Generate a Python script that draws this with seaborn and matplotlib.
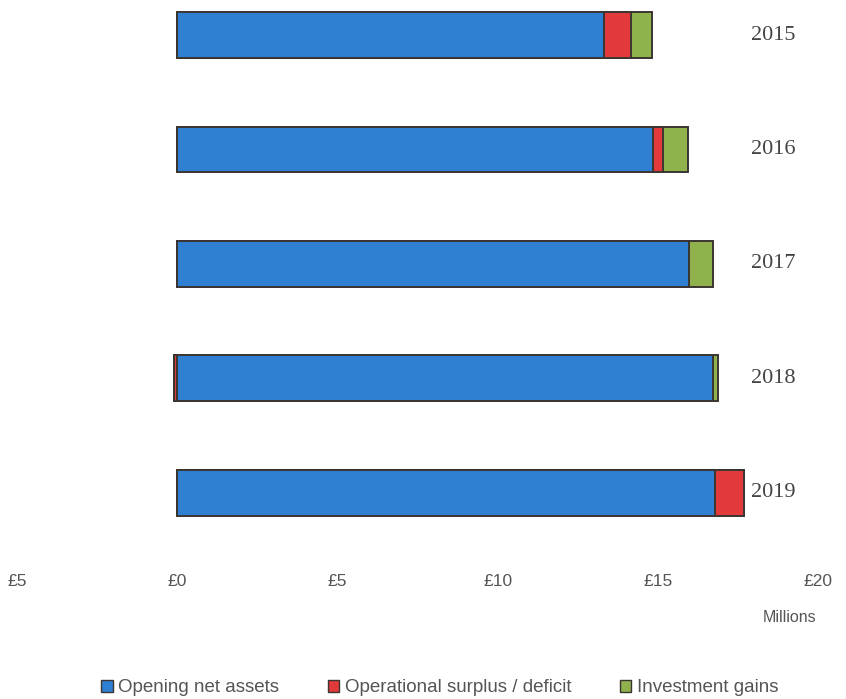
import numpy as np
import pandas as pd
import seaborn as sns
import matplotlib.pyplot as plt
from matplotlib.patches import Patch

# Values (£ millions)
years = ['2015', '2016', '2017', '2018', '2019']
opening = [13.33, 14.86, 15.98, 16.73, 16.78]
operational = [0.84, 0.31, 0.0, -0.10, 0.90]
investment = [0.65, 0.78, 0.75, 0.15, 0.0]
x_ticks = [-5, 0, 5, 10, 15, 20]
x_labels = ['£5', '£0', '£5', '£10', '£15', '£20']

colors = {'blue': '#2f7fd3', 'red': '#e2393b', 'green': '#8fb24c'}
edge = '#3b3531'

df = pd.DataFrame({'year': years, 'opening': opening,
                   'operational': operational, 'investment': investment})

# cumulative ends for stacking (positive to the right, negatives to the left)
op_pos = df['operational'].clip(lower=0)
inv_pos = df['investment'].clip(lower=0)
op_neg = df['operational'].clip(upper=0)
inv_neg = df['investment'].clip(upper=0)
df['end_blue'] = df['opening']
df['end_red'] = df['opening'] + op_pos
df['end_green'] = df['end_red'] + inv_pos
df['neg_red'] = op_neg
df['neg_green'] = op_neg + inv_neg

sns.set_style("white")
plt.rcParams['font.family'] = ['Liberation Sans', 'DejaVu Sans']

fig = plt.figure(figsize=(8.46, 6.99), dpi=100)
ax = fig.add_axes([17 / 846, 1 - 550 / 699, (818 - 17) / 846, 550 / 699])

# draw outermost first so inner segments overlay
for col, c in [('end_green', colors['green']), ('end_red', colors['red']),
               ('end_blue', colors['blue']), ('neg_green', colors['green']),
               ('neg_red', colors['red'])]:
    sns.barplot(data=df, x=col, y='year', order=years, orient='h',
                color=c, width=0.4, edgecolor=edge, linewidth=1.4,
                saturation=1, ax=ax)

ax.set_xlim(-5, 20)
ax.set_ylim(4.5, -0.306)
ax.set_xticks(x_ticks)
ax.set_xticklabels(x_labels, fontsize=12.5, color='#555555')
ax.tick_params(axis='x', length=0, pad=17)
ax.set_yticks([])
ax.set_xlabel('')
ax.set_ylabel('')
sns.despine(ax=ax, left=True, bottom=True)

# year labels sit inside the plot at the right
for i, y in enumerate(years):
    ax.text(17.9, i, y, ha='left', va='center', fontsize=16,
            color='#444444', family='Liberation Serif')

fig.text(790 / 846, 1 - 618 / 699, 'Millions', ha='center', va='center',
         fontsize=11.5, color='#555555')

handles = [Patch(facecolor=colors['blue'], edgecolor=edge),
           Patch(facecolor=colors['red'], edgecolor=edge),
           Patch(facecolor=colors['green'], edgecolor=edge)]
fig.legend(handles, ['Opening net assets', 'Operational surplus / deficit',
                     'Investment gains'],
           loc='center', bbox_to_anchor=(440 / 846, 1 - 688 / 699), ncol=3,
           frameon=False, fontsize=13.5, handlelength=0.6, handleheight=0.6,
           handletextpad=0.3, columnspacing=2.6, labelcolor='#555555')

plt.savefig('out.png', dpi=100, facecolor='white')
plt.close()
